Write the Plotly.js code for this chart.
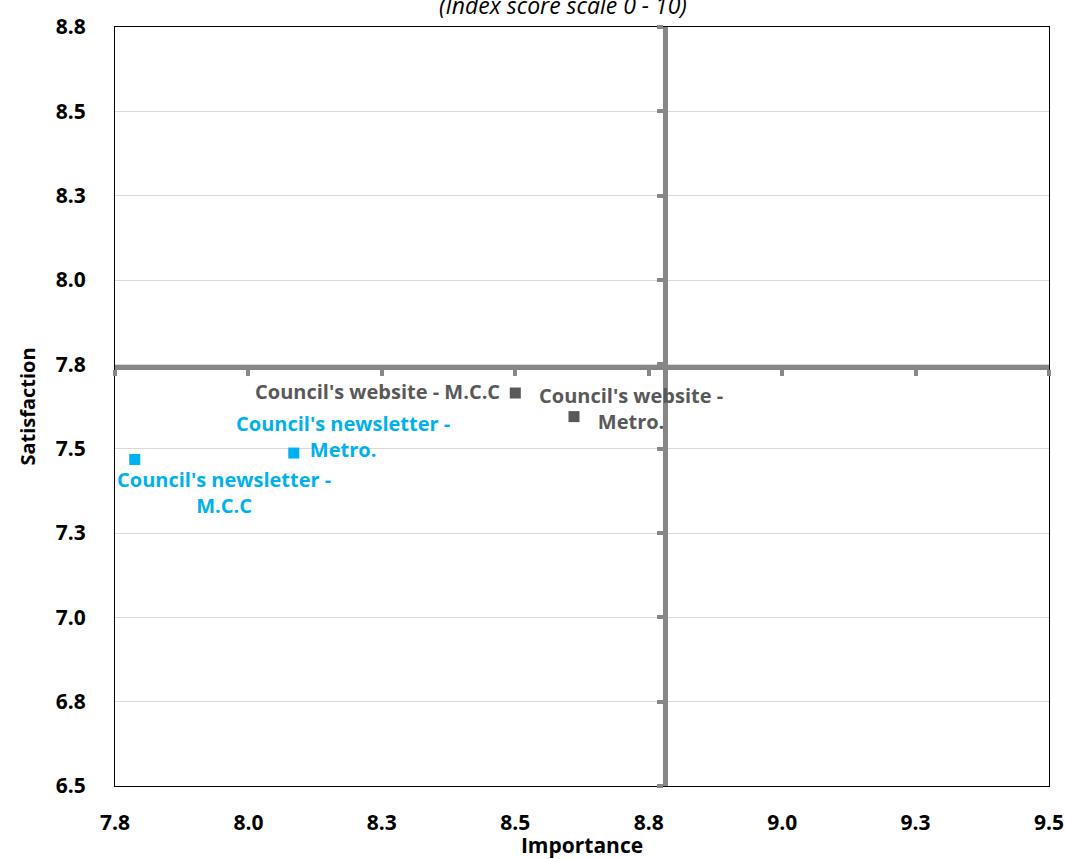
<!DOCTYPE html>
<html>
<head>
<meta charset="utf-8">
<script src="https://cdn.plot.ly/plotly-3.0.1.min.js"></script>
<style>html,body{margin:0;padding:0;background:#fff;}#chart{width:1065px;height:859px;}</style>
</head>
<body>
<div id="chart"></div>
<script>
// ---- data ----
const seriesNames = ["Council's website", "Council's newsletter"];
const websiteLabels = ["Council's website - M.C.C", "Council's website -<br>Metro."];
const websiteImportance = [8.50, 8.61];
const websiteSatisfaction = [7.665, 7.595];
const newsletterLabels = ["Council's newsletter -<br>Metro.", "Council's newsletter -<br>M.C.C"];
const newsletterImportance = [8.085, 7.787];
const newsletterSatisfaction = [7.487, 7.468];
const xTickVals = [7.75, 8.0, 8.25, 8.5, 8.75, 9.0, 9.25, 9.5];
const xTickText = ["7.8", "8.0", "8.3", "8.5", "8.8", "9.0", "9.3", "9.5"];
const yTickVals = [6.5, 6.75, 7.0, 7.25, 7.5, 7.75, 8.0, 8.25, 8.5, 8.75];
const yTickText = ["6.5", "6.8", "7.0", "7.3", "7.5", "7.8", "8.0", "8.3", "8.5", "8.8"];
const xCross = 8.78;   // importance average (vertical divider)
const yCross = 7.742;  // satisfaction average (horizontal divider)
const xRange = [7.75, 9.5];
const yRange = [6.5, 8.75];

const websiteColor = '#595959';
const newsletterColor = '#00B0F0';
const font = "'Open Sans', 'DejaVu Sans', sans-serif";
const labelSize = 20;

const traces = [
  {x: websiteImportance, y: websiteSatisfaction, name: seriesNames[0], type: 'scatter', mode: 'markers',
   marker: {symbol: 'square', size: 11, color: websiteColor}, hoverinfo: 'skip'},
  {x: newsletterImportance, y: newsletterSatisfaction, name: seriesNames[1], type: 'scatter', mode: 'markers',
   marker: {symbol: 'square', size: 11, color: newsletterColor}, hoverinfo: 'skip'},
  {x: [], y: [], xaxis: 'x2', yaxis: 'y2', type: 'scatter', mode: 'markers', showlegend: false, hoverinfo: 'skip'}
];

// label placement offsets (pixels)
const websiteShift = [{xa: 'right', xs: -13, ys: 2}, {xa: 'center', xs: 57, ys: 8}];
const newsletterShift = [{xa: 'center', xs: 49, ys: 17}, {xa: 'center', xs: 89, ys: -33}];

const annotations = [];
websiteLabels.forEach((t, i) => annotations.push({
  x: websiteImportance[i], y: websiteSatisfaction[i], xref: 'x', yref: 'y', text: '<b>' + t + '</b>',
  showarrow: false, xanchor: websiteShift[i].xa, yanchor: 'middle', align: 'center',
  xshift: websiteShift[i].xs, yshift: websiteShift[i].ys,
  font: {family: font, size: labelSize, color: websiteColor}
}));
newsletterLabels.forEach((t, i) => annotations.push({
  x: newsletterImportance[i], y: newsletterSatisfaction[i], xref: 'x', yref: 'y', text: '<b>' + t + '</b>',
  showarrow: false, xanchor: newsletterShift[i].xa, yanchor: 'middle', align: 'center',
  xshift: newsletterShift[i].xs, yshift: newsletterShift[i].ys,
  font: {family: font, size: labelSize, color: newsletterColor}
}));
annotations.push({
  xref: 'paper', yref: 'paper', x: 0.48, y: 1.0, yshift: 22, xanchor: 'center', yanchor: 'middle',
  text: '<i>(Index score scale 0 - 10)</i>', showarrow: false,
  font: {family: font, size: 23, color: '#000'}
});

const tickFont = {family: font, size: 21, color: '#000', weight: 'bold'};

const layout = {
  width: 1065, height: 859,
  margin: {l: 115, r: 16, t: 27, b: 73},
  paper_bgcolor: '#fff', plot_bgcolor: '#fff',
  showlegend: false,
  xaxis: {
    range: xRange, tickvals: xTickVals, ticktext: xTickText, tickfont: tickFont,
    showgrid: false, zeroline: false, showline: true, mirror: true, linecolor: '#000', linewidth: 1,
    ticks: 'outside', ticklen: 18, tickcolor: 'rgba(0,0,0,0)',
    title: {text: '<b>Importance</b>', font: {family: font, size: 21, color: '#000'}, standoff: 0}
  },
  yaxis: {
    range: yRange, tickvals: yTickVals, ticktext: yTickText, tickfont: tickFont,
    showgrid: true, gridcolor: '#d9d9d9', gridwidth: 1, zeroline: false,
    showline: true, mirror: true, linecolor: '#000', linewidth: 1,
    ticks: 'outside', ticklen: 24, tickcolor: 'rgba(0,0,0,0)',
    title: {text: '<b>Satisfaction</b>', font: {family: font, size: 20, color: '#000'}, standoff: 14}
  },
  xaxis2: {
    range: xRange, overlaying: 'x', anchor: 'free', position: (yCross - yRange[0]) / (yRange[1] - yRange[0]),
    tickvals: xTickVals, showticklabels: false, ticks: 'outside', ticklen: 6, tickwidth: 4, tickcolor: '#878787',
    showline: true, linecolor: '#878787', linewidth: 5, showgrid: false, zeroline: false
  },
  yaxis2: {
    range: yRange, overlaying: 'y', anchor: 'free', position: (xCross - xRange[0]) / (xRange[1] - xRange[0]),
    tickvals: yTickVals, showticklabels: false, ticks: 'outside', ticklen: 6, tickwidth: 4, tickcolor: '#878787',
    showline: true, linecolor: '#878787', linewidth: 5, showgrid: false, zeroline: false
  },
  annotations: annotations
};

Plotly.newPlot('chart', traces, layout, {displayModeBar: false, staticPlot: true});
</script>
</body>
</html>
